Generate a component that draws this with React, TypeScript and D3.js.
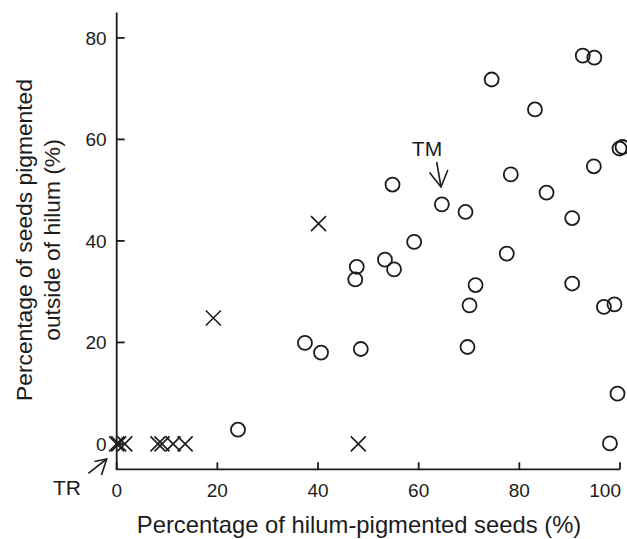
import React, { useEffect, useRef } from "react";
import { select, scaleLinear, line } from "d3";

// hilum-pigmented (%) vs pigmented outside hilum (%)
const circleX = [
  24.1, 37.4, 40.6, 48.5, 47.4, 47.7, 53.3, 55.1, 54.8, 59.1, 64.6, 69.3, 70.1, 71.3, 69.7,
  74.5, 77.5, 78.3, 83.1, 85.4, 90.5, 90.5, 92.6, 94.9, 94.8, 96.8, 98.9, 99.5, 98.0, 99.9, 100.5,
];
const circleY = [
  2.8, 19.9, 18.0, 18.7, 32.4, 34.9, 36.3, 34.4, 51.1, 39.8, 47.2, 45.7, 27.3, 31.3, 19.1,
  71.8, 37.5, 53.1, 65.9, 49.5, 44.5, 31.6, 76.5, 76.1, 54.7, 27.0, 27.5, 9.9, 0.1, 58.2, 58.5,
];
const crossX = [0, 0.4, 1.6, 8.2, 9.0, 11.2, 13.6, 19.2, 40.1, 48.0];
const crossY = [0, 0, 0, 0, 0, 0, 0, 24.8, 43.4, 0];

const xTicks = [0, 20, 40, 60, 80, 100];
const yTicks = [0, 20, 40, 60, 80];

const ink = "#1c1c1c";
const font = "'Liberation Sans', Arial, Helvetica, sans-serif";

export default function App() {
  const svgRef = useRef<SVGSVGElement>(null);

  useEffect(() => {
    const svg = select(svgRef.current);
    svg.selectAll("*").remove();

    const x = scaleLinear().domain([0, 100]).range([116.7, 620]);
    const y = scaleLinear().domain([-5, 85]).range([469.3, 12.5]);

    // axes (L shape, ticks pointing inward)
    const g = svg.append("g").attr("stroke", ink).attr("stroke-width", 1.8).attr("fill", "none");
    g.append("path").attr("d", `M${x(0)},${y(85)}V${y(-5)}H${x(100)}`);
    g.selectAll(".xt")
      .data(xTicks)
      .join("line")
      .attr("x1", (d) => x(d))
      .attr("x2", (d) => x(d))
      .attr("y1", y(-5))
      .attr("y2", y(-5) - 7);
    g.selectAll(".yt")
      .data(yTicks)
      .join("line")
      .attr("x1", x(0))
      .attr("x2", x(0) + 8)
      .attr("y1", (d) => y(d))
      .attr("y2", (d) => y(d));

    // last x label is pulled in so it stays inside the frame
    svg
      .append("g")
      .selectAll("text")
      .data(xTicks)
      .join("text")
      .attr("x", (d) => (d === 100 ? x(d) + 1 : x(d)))
      .attr("y", y(-5) + 27.5)
      .attr("text-anchor", (d) => (d === 100 ? "end" : "middle"))
      .attr("font-size", 19)
      .attr("font-family", font)
      .attr("fill", ink)
      .text((d) => d);

    svg
      .append("g")
      .selectAll("text")
      .data(yTicks)
      .join("text")
      .attr("x", x(0) - 10)
      .attr("y", (d) => y(d) + 7)
      .attr("text-anchor", "end")
      .attr("font-size", 19)
      .attr("font-family", font)
      .attr("fill", ink)
      .text((d) => d);

    // titles
    svg
      .append("text")
      .attr("x", 359)
      .attr("y", 533)
      .attr("text-anchor", "middle")
      .attr("font-size", 23.8)
      .attr("font-family", font)
      .attr("fill", ink)
      .text("Percentage of hilum-pigmented seeds (%)");

    const yt = svg
      .append("text")
      .attr("transform", "translate(0,240) rotate(-90)")
      .attr("text-anchor", "middle")
      .attr("font-size", 22.8)
      .attr("font-family", font)
      .attr("fill", ink);
    yt.append("tspan").attr("x", 0).attr("y", 32).text("Percentage of seeds pigmented");
    yt.append("tspan").attr("x", 0).attr("y", 60).text("outside of hilum (%)");

    // markers
    svg
      .append("g")
      .selectAll("circle")
      .data(circleX.map((v, i) => [v, circleY[i]]))
      .join("circle")
      .attr("cx", (d) => x(d[0]))
      .attr("cy", (d) => y(d[1]))
      .attr("r", 7)
      .attr("fill", "none")
      .attr("stroke", ink)
      .attr("stroke-width", 1.8);

    const s = 7.5;
    svg
      .append("g")
      .selectAll("path")
      .data(crossX.map((v, i) => [v, crossY[i]]))
      .join("path")
      .attr("d", (d) => {
        const cx = x(d[0]);
        const cy = y(d[1]);
        return `M${cx - s},${cy - s}L${cx + s},${cy + s}M${cx - s},${cy + s}L${cx + s},${cy - s}`;
      })
      .attr("fill", "none")
      .attr("stroke", ink)
      .attr("stroke-width", 1.6);

    // annotations
    const ann = svg.append("g").attr("fill", "none").attr("stroke", ink).attr("stroke-width", 1.6);
    const l = line();
    ann.append("path").attr("d", l([[436.7, 162], [441, 187]]));
    ann.append("path").attr("d", l([[429.5, 172.5], [441, 187], [447.8, 170]]));
    ann.append("path").attr("d", l([[88.3, 473.3], [106.7, 459]]));
    ann.append("path").attr("d", l([[94.5, 461.5], [106.7, 459], [101.5, 475]]));

    svg
      .append("text")
      .attr("x", 427)
      .attr("y", 155.5)
      .attr("text-anchor", "middle")
      .attr("font-size", 21)
      .attr("font-family", font)
      .attr("fill", ink)
      .text("TM");
    svg
      .append("text")
      .attr("x", 67)
      .attr("y", 494.5)
      .attr("text-anchor", "middle")
      .attr("font-size", 21)
      .attr("font-family", font)
      .attr("fill", ink)
      .text("TR");
  }, []);

  return (
    <svg
      ref={svgRef}
      width={627}
      height={539}
      style={{ position: "absolute", left: 0, top: 0, background: "#fff" }}
    />
  );
}
